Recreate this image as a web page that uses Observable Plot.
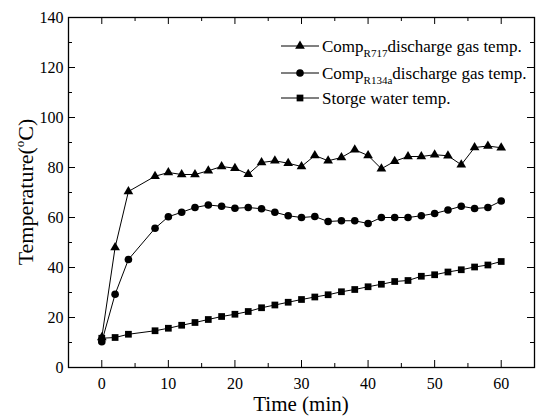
<!DOCTYPE html>
<html><head><meta charset="utf-8">
<script src="https://cdn.jsdelivr.net/npm/d3@7"></script>
<script src="https://cdn.jsdelivr.net/npm/@observablehq/plot@0.6"></script>
<style>body{margin:0;background:#fff}</style>
</head><body><div id="chart"></div>
<script>
const time = [0,2,4,8,10,12,14,16,18,20,22,24,26,28,30,32,34,36,38,40,42,44,46,48,50,52,54,56,58,60];
const r717 = [12,48,70.4,76.5,78,77.2,77.2,78.7,80.4,79.7,77.3,82,82.7,81.7,80.4,84.8,82.7,84,87.1,84.8,79.5,82.5,84.4,84.4,85.1,84.7,81.1,88,88.6,87.9];
const r134a = [10.3,29.3,43.2,55.7,60.3,62.1,64,65,64.5,63.7,64,63.5,62.1,60.7,60,60.4,58.4,58.7,58.7,57.6,60,60,60,60.7,61.6,63,64.5,63.6,64,66.6];
const water = [11.7,12,13.3,14.7,15.7,16.9,18,19.2,20.4,21.3,22.4,23.9,25,26.1,27.2,28.2,29.1,30.3,31.2,32.3,33.3,34.4,34.8,36.5,37.1,38.2,39.1,40.2,41,42.4];
const xMajor = [0,10,20,30,40,50,60];
const xMinor = [5,15,25,35,45,55];
const yMajor = [0,20,40,60,80,100,120,140];
const yMinor = [10,30,50,70,90,110,130];
const legendItems = [
  {main:"Comp", sub:"R717", rest:"discharge gas temp.", symbol:"triangle"},
  {main:"Comp", sub:"R134a", rest:"discharge gas temp.", symbol:"circle"},
  {main:"Storge water temp.", sub:"", rest:"", symbol:"square"}
];
const xLabel = "Time (min)";
const yLabelParts = ["Temperature(", "o", "C)"];

const ff = "'Liberation Serif', 'Times New Roman', Times, serif";
const W = 537, H = 417, mL = 68, mR = 3, mT = 17, mB = 50;
const pw = W - mL - mR, ph = H - mT - mB;
const series = [
  {vals: r717, symbol: "triangle", r: 3.6},
  {vals: r134a, symbol: "circle", r: 3.8},
  {vals: water, symbol: "square", r: 3.8}
];
const marks = [];
for (const s of series) {
  marks.push(Plot.line(s.vals, {x: (d,i) => time[i], y: d => d, stroke: "#000", strokeWidth: 1}));
  marks.push(Plot.dot(s.vals, {x: (d,i) => time[i], y: d => d, symbol: s.symbol, r: s.r, fill: "#000", stroke: "none"}));
}
const svg = Plot.plot({
  width: W, height: H, marginLeft: mL, marginRight: mR, marginTop: mT, marginBottom: mB,
  style: {fontFamily: ff, color: "#000", background: "#fff"},
  x: {domain: [-5, 65]},
  y: {domain: [0, 140]},
  marks: [
    Plot.tickX(xMajor, {x: d => d, stroke: "#000", insetTop: ph - 7}),
    Plot.tickX(xMajor, {x: d => d, stroke: "#000", insetBottom: ph - 7}),
    Plot.tickX(xMinor, {x: d => d, stroke: "#000", insetTop: ph - 4}),
    Plot.tickX(xMinor, {x: d => d, stroke: "#000", insetBottom: ph - 4}),
    Plot.tickY(yMajor, {y: d => d, stroke: "#000", insetRight: pw - 7}),
    Plot.tickY(yMajor, {y: d => d, stroke: "#000", insetLeft: pw - 7}),
    Plot.tickY(yMinor, {y: d => d, stroke: "#000", insetRight: pw - 4}),
    Plot.tickY(yMinor, {y: d => d, stroke: "#000", insetLeft: pw - 4}),
    ...marks,
    Plot.frame({stroke: "#000", strokeWidth: 1.3}),
    Plot.axisX(xMajor, {tickSize: 0, tickPadding: 10, fontSize: 16, fontFamily: ff, label: null}),
    Plot.axisY(yMajor, {tickSize: 0, tickPadding: 5, fontSize: 16, fontFamily: ff, label: null})
  ]
});
document.getElementById("chart").appendChild(svg);

const s = d3.select(svg);
// axis titles
s.append("text").attr("x", mL + pw/2).attr("y", 411).attr("text-anchor", "middle")
  .attr("font-size", 21).attr("font-family", ff).attr("fill", "#000").text(xLabel);
const yl = s.append("text").attr("transform", `translate(33,${mT + ph/2}) rotate(-90)`)
  .attr("text-anchor", "middle").attr("font-size", 22).attr("font-family", ff).attr("fill", "#000");
yl.append("tspan").text(yLabelParts[0]);
yl.append("tspan").attr("font-size", 13).attr("dy", -9).text(yLabelParts[1]);
yl.append("tspan").attr("dy", 9).text(yLabelParts[2]);

// legend
const symMap = {triangle: d3.symbolTriangle, circle: d3.symbolCircle, square: d3.symbolSquare};
const rMap = {triangle: 3.6, circle: 3.8, square: 3.8};
const lg = s.append("g").attr("font-family", ff).attr("fill", "#000").attr("text-anchor", "start");
legendItems.forEach((it, i) => {
  const y = [46, 73, 98][i];
  lg.append("line").attr("x1", 281).attr("x2", 319).attr("y1", y).attr("y2", y).attr("stroke", "#000");
  lg.append("path").attr("transform", `translate(300,${y})`)
    .attr("d", d3.symbol(symMap[it.symbol], Math.PI * rMap[it.symbol] ** 2)()).attr("fill", "#000");
  const t = lg.append("text").attr("x", 322).attr("y", y + 6).attr("font-size", 17).attr("text-anchor", "start");
  t.append("tspan").text(it.main);
  if (it.sub) {
    t.append("tspan").attr("font-size", 11).attr("dy", 5).text(it.sub);
    t.append("tspan").attr("dy", -5).text(it.rest);
  }
});
</script></body></html>
